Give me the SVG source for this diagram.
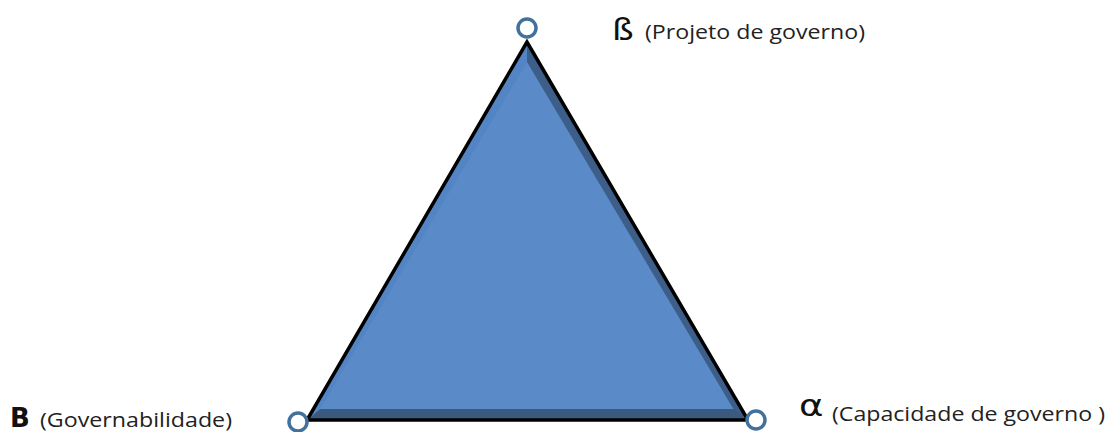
<svg xmlns="http://www.w3.org/2000/svg" width="1108" height="432" viewBox="0 0 1108 432">
<style>
.lbl{font-family:"Open Sans","Liberation Sans",sans-serif;font-size:20px;fill:#222}
.sym{font-family:"DejaVu Sans","Liberation Sans",sans-serif;fill:#111}
.pt{fill:#fff;stroke:#41719c;stroke-width:3.5}
</style>
<rect width="1108" height="432" fill="#fff"/>
<g id="triangle">
<polygon points="527,42 307,420 748,420" fill="#5a8ac8"/>
<polygon points="527,42 748,420 734,410 527,62" fill="#3c5e88"/>
<polygon points="307,420 748,420 734,409 320,409" fill="#3a5a80"/>
<polygon points="527,42 307,420 320,409 527,62" fill="#5384c4"/>
<polygon points="527,42 307,420 748,420" fill="none" stroke="#000" stroke-width="3.5" stroke-linejoin="miter"/>
</g>
<g id="node-beta">
<circle class="pt" cx="527" cy="28" r="9"/>
<text class="sym" transform="translate(612,40) scale(1.15,1)" font-size="30">ß</text>
<text class="lbl" x="645" y="39" textLength="220" lengthAdjust="spacingAndGlyphs">(Projeto de governo)</text>
</g>
<g id="node-B">
<circle class="pt" cx="298" cy="422" r="9"/>
<text class="sym" x="10" y="427" font-size="26" font-weight="bold">B</text>
<text class="lbl" x="40" y="427" textLength="192" lengthAdjust="spacingAndGlyphs">(Governabilidade)</text>
</g>
<g id="node-alpha">
<circle class="pt" cx="756" cy="420" r="9"/>
<text class="sym" transform="translate(799,416) scale(1.2,1)" font-size="31">α</text>
<text class="lbl" x="832" y="421" textLength="273" lengthAdjust="spacingAndGlyphs">(Capacidade de governo )</text>
</g>
</svg>
